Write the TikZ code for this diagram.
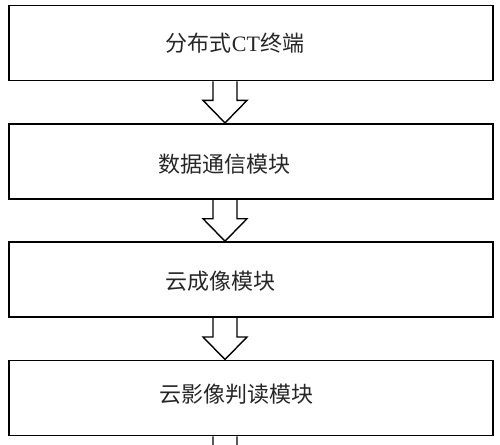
\documentclass[tikz,border=0pt]{standalone}
\usepackage{fontspec}
\newfontfamily\cjk{Noto Sans CJK SC}
\newfontfamily\latin{Liberation Serif}
\usetikzlibrary{positioning}
\tikzstyle{module} = [rectangle, minimum width=484pt, minimum height=75pt, draw=black, line width=1.8pt, inner sep=0pt]
\tikzstyle{modtext} = [font=\cjk\fontsize{22pt}{24pt}\selectfont, inner sep=0pt, text=black!85]
\tikzstyle{harrow} = [line width=1.4pt, line join=miter]

\begin{document}
\begin{tikzpicture}[x=1pt,y=1pt]
	
	\def \gap {41.5pt}
	\def \ax {-26}
	
	\useasboundingbox (0,0) rectangle (500,-444);
	\clip (0,0) rectangle (500,-444);
	\node (b1) [module] at (251,-43) {};
	\node (b2) [module, below=\gap of b1] {};
	\node (b3) [module, below=\gap of b2] {};
	\node (b4) [module, below=\gap of b3] {};
	\node (t1) [modtext] at ([xshift=-16pt]b1.center) {分布式{\latin CT}终端};
	\node (t2) [modtext] at ([xshift=-27pt,yshift=-3pt]b2.center) {数据通信模块};
	\node (t3) [modtext] at ([xshift=-31pt,yshift=-2pt]b3.center) {云成像模块};
	\node (t4) [modtext] at ([xshift=-15pt,yshift=4pt]b4.center) {云影像判读模块};
	
	%arrow
	\draw [harrow] (b1.south) ++(\ax-12,0) -- ++(0,-19) -- ++(-10,0) -- ++(22,-22.5) -- ++(22,22.5) -- ++(-10,0) -- ++(0,19);
	\draw [harrow] (b2.south) ++(\ax-12,0) -- ++(0,-19) -- ++(-10,0) -- ++(22,-22.5) -- ++(22,22.5) -- ++(-10,0) -- ++(0,19);
	\draw [harrow] (b3.south) ++(\ax-12,0) -- ++(0,-19) -- ++(-10,0) -- ++(22,-22.5) -- ++(22,22.5) -- ++(-10,0) -- ++(0,19);
	\draw [harrow] (b4.south) ++(\ax-12,0) -- ++(0,-19) -- ++(-10,0) -- ++(22,-22.5) -- ++(22,22.5) -- ++(-10,0) -- ++(0,19);
	
\end{tikzpicture}
\end{document}
